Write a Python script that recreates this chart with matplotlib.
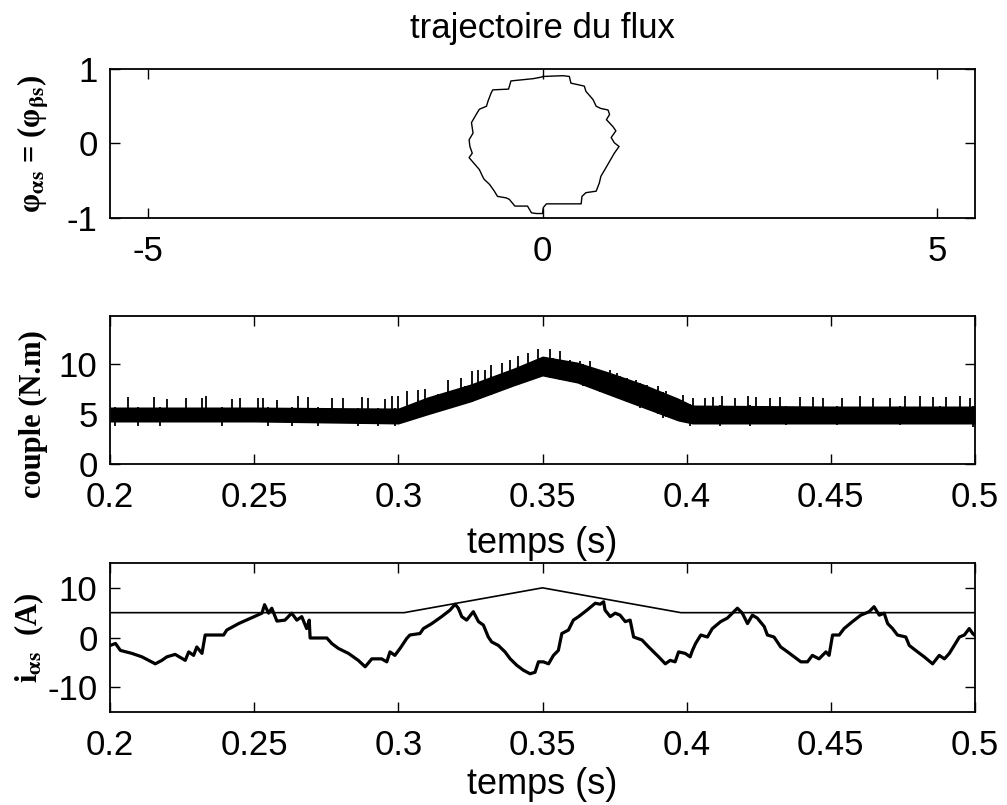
import numpy as np
import matplotlib
matplotlib.use('Agg')
import matplotlib.pyplot as plt

plt.rcParams['font.family'] = ['Liberation Sans', 'DejaVu Sans']
plt.rcParams['mathtext.fontset'] = 'stix'
plt.rcParams['mathtext.default'] = 'bf'
plt.rcParams['axes.unicode_minus'] = False

# flux trajectory (phi_alpha, phi_beta)
flux_a = [0.01, 0.26, 0.34, 0.36, 0.49, 0.53, 0.55, 0.64, 0.68, 0.74, 0.83, 0.85,
          0.81, 0.89, 0.93, 0.87, 0.91, 0.97, 0.91, 0.85, 0.79, 0.74, 0.72, 0.68,
          0.55, 0.50, 0.49, 0.05, 0.01, 0.00, -0.08, -0.14, -0.19, -0.35, -0.42,
          -0.46, -0.57, -0.61, -0.67, -0.74, -0.76, -0.80, -0.93, -0.89, -0.92,
          -0.93, -0.88, -0.90, -0.84, -0.80, -0.71, -0.69, -0.65, -0.63, -0.43,
          -0.40, -0.12, -0.02, 0.01]
flux_b = [0.90, 0.91, 0.90, 0.81, 0.78, 0.77, 0.70, 0.59, 0.50, 0.47, 0.45, 0.39,
          0.32, 0.23, 0.17, 0.08, 0.01, -0.04, -0.13, -0.24, -0.35, -0.44, -0.53,
          -0.64, -0.66, -0.71, -0.81, -0.81, -0.86, -0.94, -0.94, -0.93, -0.84,
          -0.84, -0.75, -0.73, -0.71, -0.64, -0.55, -0.48, -0.44, -0.35, -0.19,
          -0.13, -0.04, 0.05, 0.14, 0.28, 0.39, 0.46, 0.50, 0.57, 0.68, 0.72,
          0.73, 0.84, 0.87, 0.89, 0.90]

# torque: dense ripple band (lower / upper edge), spikes above and dips below
t_band = [0.200, 0.250, 0.300, 0.310, 0.325, 0.340, 0.350, 0.362, 0.373,
          0.385, 0.397, 0.402, 0.450, 0.500]
band_low = [4.2, 4.2, 4.0, 4.9, 6.2, 7.8, 8.8, 8.1, 6.9, 5.6, 4.3, 4.0, 4.0, 4.0]
band_up = [5.7, 5.7, 5.6, 6.7, 8.0, 9.6, 10.8, 10.2, 9.2, 8.0, 6.6, 5.9, 5.8, 5.8]

spike_t = [0.2064, 0.2154, 0.2197, 0.2264, 0.2318, 0.2332, 0.2422, 0.2451, 0.2514,
           0.2532, 0.2578, 0.2653, 0.2688, 0.2769, 0.2809, 0.2873, 0.2896, 0.2954,
           0.2977, 0.3000, 0.3029, 0.3069, 0.3092, 0.3173, 0.3219, 0.3254, 0.3277,
           0.3300, 0.3323, 0.3358, 0.3387, 0.3416, 0.3450, 0.3485, 0.3526, 0.3560,
           0.3595, 0.3630, 0.3664, 0.3699, 0.3734, 0.3757, 0.3792, 0.3826, 0.3861,
           0.3901, 0.3930, 0.3988, 0.4023, 0.4063, 0.4092, 0.4121, 0.4167, 0.4213,
           0.4242, 0.4288, 0.4323, 0.4393, 0.4439, 0.4473, 0.4537, 0.4601, 0.4647,
           0.4705, 0.4757, 0.4809, 0.4855, 0.4901, 0.4947, 0.4982]
spike_v = [6.69, 6.69, 6.49, 6.59, 6.59, 6.82, 6.49, 6.59, 6.59, 6.59, 6.42, 6.76,
           6.69, 6.59, 6.59, 6.66, 6.59, 6.49, 6.82, 6.82, 7.26, 7.42, 7.49, 8.43,
           8.60, 9.26, 9.43, 9.43, 9.93, 10.10, 10.43, 10.77, 11.10, 11.50, 11.50,
           11.27, 10.43, 10.27, 10.27, 9.43, 9.43, 9.10, 8.60, 8.43, 7.93, 7.76,
           7.26, 6.92, 6.59, 6.59, 6.69, 6.76, 6.59, 6.76, 6.69, 6.59, 6.69, 6.69,
           6.69, 6.59, 6.59, 6.82, 6.59, 6.59, 6.76, 6.82, 6.69, 6.69, 6.82, 6.59]

dip_t = [0.2017, 0.2098, 0.2173, 0.2387, 0.2549, 0.2630, 0.2722, 0.2861, 0.2930,
         0.2988, 0.3069, 0.3138, 0.3231, 0.3323, 0.3416, 0.3537, 0.3641, 0.3768,
         0.3838, 0.3919, 0.4011, 0.4115, 0.4219, 0.4346, 0.4520, 0.4739, 0.4878,
         0.4993]
dip_v = [3.8, 3.8, 3.8, 3.8, 3.8, 3.8, 3.8, 3.8, 3.8, 3.75, 4.6, 5.25, 6.25, 6.9,
         7.9, 8.6, 7.76, 6.76, 5.6, 4.58, 3.75, 3.75, 3.75, 3.9, 3.9, 3.9, 4.1, 3.7]

# stator current i_alpha and torque reference
t_cur = [0.2001, 0.2019, 0.2036, 0.2076, 0.2111, 0.2134, 0.2157, 0.2180, 0.2197,
         0.2226, 0.2261, 0.2273, 0.2290, 0.2301, 0.2319, 0.2330, 0.2394, 0.2405,
         0.2446, 0.2492, 0.2527, 0.2536, 0.2550, 0.2561, 0.2579, 0.2607, 0.2630,
         0.2648, 0.2665, 0.2682, 0.2691, 0.2694, 0.2752, 0.2769, 0.2792, 0.2827,
         0.2861, 0.2885, 0.2908, 0.2942, 0.2960, 0.2971, 0.2988, 0.3006, 0.3029,
         0.3040, 0.3075, 0.3087, 0.3116, 0.3150, 0.3179, 0.3197, 0.3208, 0.3220,
         0.3237, 0.3260, 0.3278, 0.3295, 0.3312, 0.3324, 0.3347, 0.3370, 0.3388,
         0.3411, 0.3434, 0.3457, 0.3474, 0.3486, 0.3503, 0.3521, 0.3538, 0.3555,
         0.3567, 0.3590, 0.3607, 0.3625, 0.3654, 0.3683, 0.3700, 0.3712, 0.3717,
         0.3735, 0.3752, 0.3769, 0.3787, 0.3804, 0.3816, 0.3845, 0.3868, 0.3903,
         0.3926, 0.3943, 0.3960, 0.3972, 0.3995, 0.4012, 0.4020, 0.4031, 0.4049,
         0.4072, 0.4089, 0.4118, 0.4141, 0.4164, 0.4176, 0.4193, 0.4211, 0.4228,
         0.4245, 0.4269, 0.4280, 0.4303, 0.4326, 0.4350, 0.4373, 0.4396, 0.4419,
         0.4436, 0.4459, 0.4483, 0.4494, 0.4506, 0.4529, 0.4546, 0.4575, 0.4604,
         0.4633, 0.4650, 0.4668, 0.4685, 0.4697, 0.4714, 0.4731, 0.4760, 0.4772,
         0.4801, 0.4824, 0.4853, 0.4876, 0.4894, 0.4911, 0.4928, 0.4946, 0.4963,
         0.4980, 0.4992, 0.4998]
i_cur = [-1.6, -1.2, -2.6, -3.2, -3.9, -4.6, -5.3, -4.6, -3.9, -3.4, -4.6, -2.9,
         -3.6, -1.9, -3.2, 0.5, 0.5, 1.5, 2.8, 4.0, 4.9, 6.6, 4.9, 5.9, 3.3, 3.5,
         4.9, 3.5, 4.2, 1.8, 3.5, -0.1, -0.1, -1.2, -2.2, -3.2, -4.6, -5.9, -4.3,
         -4.3, -4.9, -2.9, -3.6, -2.2, -0.2, 0.5, 0.8, 1.8, 2.8, 4.2, 5.5, 6.7, 5.9,
         4.2, 3.5, 5.2, 3.2, 2.5, 0.1, -0.9, -1.6, -2.9, -4.3, -5.6, -6.6, -7.3,
         -7.0, -4.9, -4.9, -5.3, -3.6, -2.6, 0.8, 1.5, 3.5, 4.2, 5.5, 6.9, 6.7, 7.2,
         5.5, 4.2, 4.9, 4.5, 3.2, 3.5, 0.1, -0.5, -1.9, -3.9, -5.3, -4.6, -4.9,
         -2.9, -3.2, -3.9, -2.6, -1.2, 0.5, 0.1, 1.8, 3.2, 3.9, 5.2, 5.9, 4.9, 2.8,
         4.5, 3.9, 2.2, 0.5, 0.1, -1.9, -2.9, -3.9, -4.9, -4.9, -3.6, -4.3, -2.9,
         -3.6, 0.5, 0.5, 1.8, 3.2, 4.5, 5.2, 6.2, 4.5, 4.9, 2.8, 1.8, 0.5, 0.1,
         -1.6, -2.9, -3.9, -5.3, -3.6, -4.3, -3.2, -1.6, 0.1, 0.5, 1.8, 0.8, 0.5]

t_ref = [0.2, 0.302, 0.35, 0.398, 0.5]
c_ref = [5, 5, 10, 5, 5]

t_ticks = [0.2, 0.25, 0.3, 0.35, 0.4, 0.45, 0.5]
t_labels = ['0.2', '0.25', '0.3', '0.35', '0.4', '0.45', '0.5']

W, H = 1007, 805
fig = plt.figure(figsize=(W / 100, H / 100), dpi=100)

def box(top, bottom, left=110, right=975):
    return [left / W, 1 - bottom / H, (right - left) / W, (bottom - top) / H]

ax1 = fig.add_axes(box(69, 218))
ax2 = fig.add_axes(box(316, 464))
ax3 = fig.add_axes(box(563, 712))

tick_fs = 25
lab_font = dict(family=['Liberation Serif', 'DejaVu Serif'], fontweight='bold', fontsize=22)

for ax in (ax1, ax2, ax3):
    ax.tick_params(direction='in', top=True, right=True, length=7, width=1,
                   labelsize=tick_fs)
    ax.tick_params(axis='x', pad=12)
    ax.tick_params(axis='y', pad=9)
    for s in ax.spines.values():
        s.set_linewidth(1.3)

# flux circle
ax1.plot(flux_a, flux_b, color='k', lw=1.0)
ax1.set_xlim(-5.48, 5.48)
ax1.set_ylim(-1, 1)
ax1.set_xticks([-5, 0, 5])
ax1.set_yticks([-1, 0, 1])
ax1.set_title('trajectoire du flux', fontsize=25, pad=22)
ax1.set_ylabel(r'φ$_{\alpha s}$ = (φ$_{\beta s}$)', va='center', **lab_font)
ax1.yaxis.set_label_coords(-0.089, 0.5)

# torque
ax2.fill_between(t_band, band_low, band_up, color='k', lw=0)
ax2.vlines(spike_t, np.interp(spike_t, t_band, band_low), spike_v, color='k', lw=1.3)
ax2.vlines(dip_t, dip_v, np.interp(dip_t, t_band, band_up), color='k', lw=1.3)
ax2.set_xlim(0.2, 0.5)
ax2.set_ylim(0, 14.8)
ax2.set_yticks([0, 5, 10])
ax2.set_xticks(t_ticks)
ax2.set_xticklabels(t_labels)
ax2.set_xlabel('temps (s)', fontsize=26, labelpad=9)
ax2.set_ylabel('couple (N.m)', va='center', **lab_font)
ax2.yaxis.set_label_coords(-0.089, 0.34)

# current
ax3.plot(t_ref, c_ref, color='k', lw=1.2)
ax3.plot(t_cur, i_cur, color='k', lw=2.3)
ax3.set_xlim(0.2, 0.5)
ax3.set_ylim(-15, 15)
ax3.set_yticks([-10, 0, 10])
ax3.set_xticks(t_ticks)
ax3.set_xticklabels(t_labels)
ax3.set_xlabel('temps (s)', fontsize=26, labelpad=4)
ax3.set_ylabel(r'i$_{\alpha s}$  (A)', va='center', **lab_font)
ax3.yaxis.set_label_coords(-0.093, 0.5)

fig.savefig('out.png', dpi=100, facecolor='white')
